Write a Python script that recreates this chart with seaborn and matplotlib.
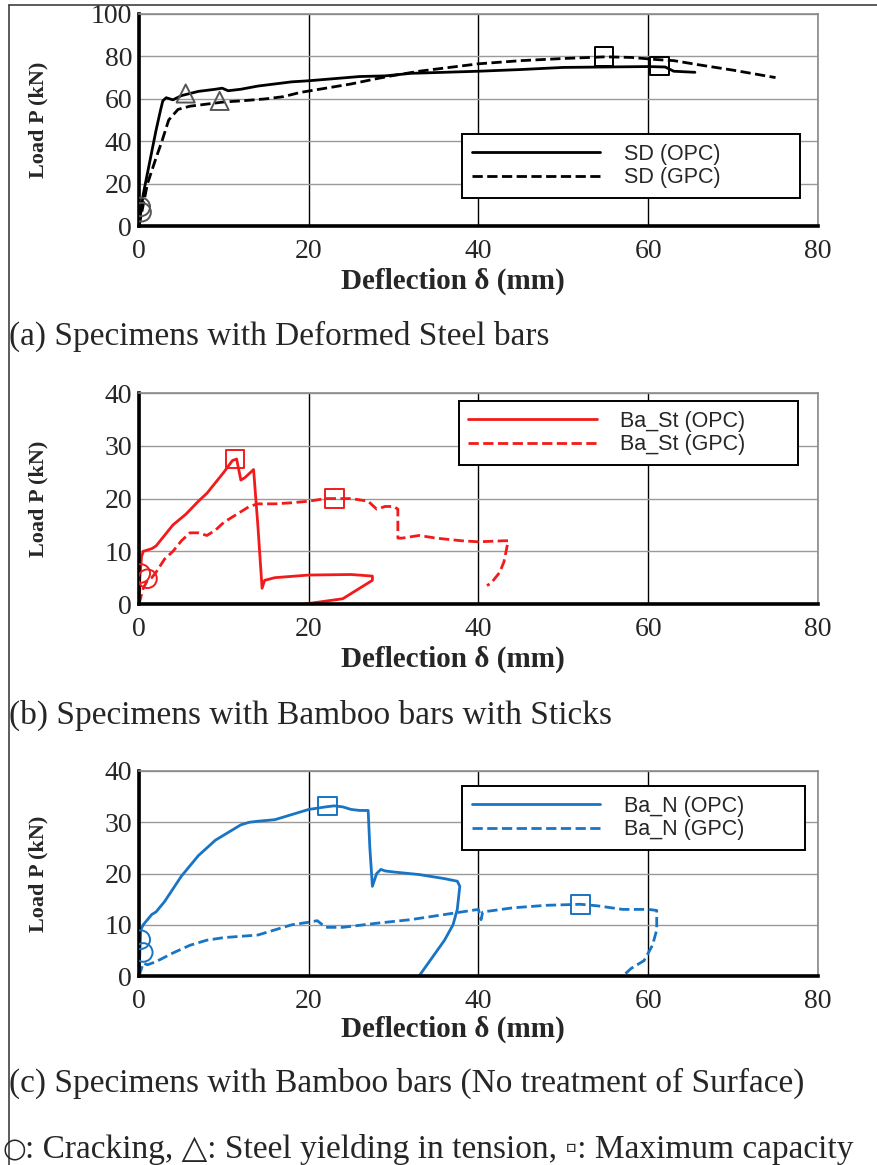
import seaborn as sns
import numpy as np
import pandas as pd
import matplotlib.pyplot as plt
from matplotlib.lines import Line2D

# (a) deformed steel bars
sd_opc_x = [0, 0.5, 1.0, 1.5, 2.0, 2.5, 2.8, 3.2, 4.0, 5.0, 6.0, 7.0, 8.0, 9.0, 9.8, 10.5, 12, 14, 16, 18, 20, 23, 26, 29, 32, 36, 40, 45, 50, 55, 60, 62, 63, 65.5]
sd_opc_y = [0, 15, 25, 35, 45, 54, 59, 60.5, 59.5, 61.5, 62.5, 63.5, 64, 64.5, 65, 63.8, 64.5, 66, 67, 68, 68.5, 69.5, 70.5, 70.8, 72, 72.5, 73, 73.8, 74.8, 75, 75.2, 75, 73, 72.5]
sd_gpc_x = [0, 0.5, 1, 2, 2.7, 3.5, 4.6, 6, 8, 10, 12, 15, 17, 19, 22, 25, 28, 30, 33, 36, 40, 45, 50, 55, 58, 61, 63, 66, 70, 75]
sd_gpc_y = [0, 10, 20, 32, 40, 50, 55, 56.5, 57.5, 58.5, 59, 60, 61, 63, 65, 67, 69.5, 71, 73, 74.5, 76.5, 78, 79, 79.8, 79.5, 78.5, 78, 76, 73.5, 70]
sd_crack = ([0.2, 0.3], [9, 6.5])
sd_yield = ([5.5, 9.5], [62.5, 59])
sd_max = ([54.8, 61.3], [79.8, 75.5])

# (b) bamboo bars with sticks
st_opc_x = [0, 0.1, 0.3, 0.5, 1.5, 2, 3, 4, 5.5, 7, 8, 9, 10, 11, 11.5, 12, 12.5, 13.5, 14, 14.5, 14.8, 16, 20, 25, 27.5, 27.5, 24, 19.5]
st_opc_y = [0, 5, 9, 10, 10.5, 11, 13, 15, 17, 19.5, 21, 23, 25, 27.2, 27.5, 23.5, 24, 25.5, 15, 3, 4.5, 5, 5.5, 5.6, 5.3, 4.5, 1, 0]
st_gpc_x = [0, 0.5, 1, 1.5, 2, 3, 4, 5, 6, 7, 8, 9, 10, 11, 12, 13, 14, 16, 18, 20, 22, 25, 27, 28, 29, 30, 30.5, 30.5, 31, 33, 35, 38, 40, 43, 43.5, 43, 42.5, 41.5, 41]
st_gpc_y = [0, 3, 4.5, 5, 6, 8.5, 10, 12, 13.5, 13.5, 13, 14, 15.5, 16.5, 17.5, 18.5, 19, 19, 19.2, 19.5, 20, 20, 19.5, 18, 18.5, 18.5, 18, 12.5, 12.5, 13, 12.5, 12, 11.8, 12, 12, 8, 6, 4, 3.5]
st_crack = ([0.2, 1.0], [5.8, 4.8])
st_max = ([11.3, 23.0], [27.5, 20.0])

# (c) bamboo bars, no surface treatment
n_opc_x = [0, 0.2, 0.5, 1, 1.5, 2, 3, 4, 5, 6, 7, 8, 9, 10, 11, 12, 13, 14, 16, 18, 20, 22, 23, 24, 25, 26, 27, 27.2, 27.5, 28, 28.5, 29, 30, 33, 36, 37.5, 37.8, 37.5, 37, 36, 34.5, 33]
n_opc_y = [0, 9, 10, 11, 12, 12.5, 14.5, 17, 19.5, 21.5, 23.5, 25, 26.5, 27.5, 28.5, 29.5, 30, 30.2, 30.5, 31.5, 32.5, 33, 33.2, 33, 32.5, 32.3, 32.3, 25, 17.5, 20, 20.8, 20.5, 20.3, 19.8, 19, 18.5, 17.5, 13, 10, 7, 3.5, 0]
n_gpc_x = [0, 0.5, 1, 2, 4, 6, 8, 10, 14, 16, 18, 20, 21, 22, 24, 28, 32, 36, 40, 40.3, 40.5, 44, 48, 52, 54, 57, 60, 61, 61, 60.5, 59.5, 58, 57]
n_gpc_y = [0, 2.5, 2.2, 2.8, 4.5, 6, 7, 7.5, 8, 9, 10, 10.5, 10.8, 9.5, 9.5, 10.3, 11, 12, 13, 11, 12.5, 13.3, 13.8, 14, 13.7, 13, 13, 12.8, 9, 6, 3, 1.5, 0]
n_crack = ([0.2, 0.5], [7.1, 4.6])
n_max = ([22.2, 52.0], [33.2, 14.0])

x_ticks = [0, 20, 40, 60, 80]

sns.set_style("white")
plt.rcParams['font.family'] = ['Liberation Serif', 'DejaVu Serif']

fig = plt.figure(figsize=(8.77, 11.65), dpi=100)

# frame around the figure (left and top edges)
fig.add_artist(Line2D([0.0097, 0.0097], [0, 0.9957], color='#404040', lw=1.2))
fig.add_artist(Line2D([0.0097, 1.0], [0.9957, 0.9957], color='#404040', lw=1.2))

black = '#000000'
red = '#F21A1A'
blue = '#1874C4'

panels = [
    dict(rect=[0.1585, 0.806, 0.7742, 0.182], ymax=100, yticks=[0, 20, 40, 60, 80, 100],
         series=[(sd_opc_x, sd_opc_y, 'SD (OPC)', '-'), (sd_gpc_x, sd_gpc_y, 'SD (GPC)', '--')],
         color=black, crack=sd_crack, yld=sd_yield, mx=sd_max, mkcolor='#555555',
         leg=(0.476, 0.16, 0.4975, 0.274), xl=-0.262,
         caption='(a) Specimens with Deformed Steel bars', cap_y=0.7116),
    dict(rect=[0.1585, 0.4815, 0.7742, 0.1811], ymax=40, yticks=[0, 10, 20, 30, 40],
         series=[(st_opc_x, st_opc_y, 'Ba_St (OPC)', '-'), (st_gpc_x, st_gpc_y, 'Ba_St (GPC)', '--')],
         color=red, crack=st_crack, yld=None, mx=st_max, mkcolor=red,
         leg=(0.471, 0.687, 0.499, 0.275), xl=-0.262,
         caption='(b) Specimens with Bamboo bars with Sticks', cap_y=0.3863),
    dict(rect=[0.1585, 0.1622, 0.7742, 0.176], ymax=40, yticks=[0, 10, 20, 30, 40],
         series=[(n_opc_x, n_opc_y, 'Ba_N (OPC)', '-'), (n_gpc_x, n_gpc_y, 'Ba_N (GPC)', '--')],
         color=blue, crack=n_crack, yld=None, mx=n_max, mkcolor=blue,
         leg=(0.476, 0.644, 0.505, 0.283), xl=-0.258,
         caption='(c) Specimens with Bamboo bars (No treatment of Surface)', cap_y=0.0704),
]

for p in panels:
    ax = fig.add_axes(p['rect'])
    for xs, ys, lab, ls in p['series']:
        df = pd.DataFrame({'x': xs, 'y': ys})
        kw = dict(dashes=(3.2, 2.2)) if ls == '--' else {}
        sns.lineplot(data=df, x='x', y='y', sort=False, estimator=None, ax=ax,
                     color=p['color'], lw=2.0, linestyle=ls, label=lab, **kw)
    c = p['mkcolor']
    sns.scatterplot(x=p['crack'][0], y=p['crack'][1], ax=ax, marker='o', s=180,
                    facecolor='none', edgecolor=c, linewidth=1.4, zorder=5)
    if p['yld'] is not None:
        sns.scatterplot(x=p['yld'][0], y=p['yld'][1], ax=ax, marker='^', s=170,
                        facecolor='none', edgecolor=c, linewidth=1.4, zorder=5)
    sns.scatterplot(x=p['mx'][0], y=p['mx'][1], ax=ax, marker='s', s=180,
                    facecolor='none', edgecolor=black if p['color'] == black else c,
                    linewidth=1.4, zorder=5)

    ax.set_xlim(0, 80)
    ax.set_ylim(0, p['ymax'])
    ax.set_xticks(x_ticks)
    ax.set_yticks(p['yticks'])
    ax.xaxis.grid(True, color='black', lw=1.0)
    ax.yaxis.grid(True, color='#9a9a9a', lw=1.0)
    ax.set_axisbelow(True)
    for s in ['left', 'bottom']:
        ax.spines[s].set_color('black')
        ax.spines[s].set_linewidth(2.6)
    for s in ['top', 'right']:
        ax.spines[s].set_color('#8a8a8a')
        ax.spines[s].set_linewidth(1.2)
    ax.tick_params(axis='both', direction='in', length=6, width=2.2, color='black',
                   labelsize=20, pad=5)
    ax.tick_params(axis='x', pad=9)

    ax.set_xlabel('Deflection δ (mm)', fontsize=21, fontweight='bold')
    ax.set_ylabel('Load P (kN)', fontsize=16, fontweight='bold')
    ax.xaxis.set_label_coords(0.462, p['xl'])
    ax.xaxis.label.set_va('center')
    ax.yaxis.set_label_coords(-0.148, 0.5)
    ax.yaxis.label.set_va('center')

    leg = ax.legend(loc='upper left', bbox_to_anchor=p['leg'], mode='expand',
                    prop={'family': 'Liberation Sans', 'size': 15.5}, frameon=True,
                    fancybox=False, edgecolor='black', framealpha=1,
                    handlelength=5.95, handletextpad=1.1, labelspacing=0.12,
                    borderpad=0.45, borderaxespad=0)
    leg.get_frame().set_linewidth(1.4)

    fig.text(0.0105, p['cap_y'], p['caption'], fontsize=24, va='center', ha='left')

fig.text(0.003, 0.0129, '○', family='DejaVu Sans', fontsize=19.5, va='center', ha='left')
fig.text(0.029, 0.0129, ': Cracking, △: Steel yielding in tension, ▫: Maximum capacity',
         fontsize=24, va='center', ha='left')

fig.savefig('out.png', dpi=100)
